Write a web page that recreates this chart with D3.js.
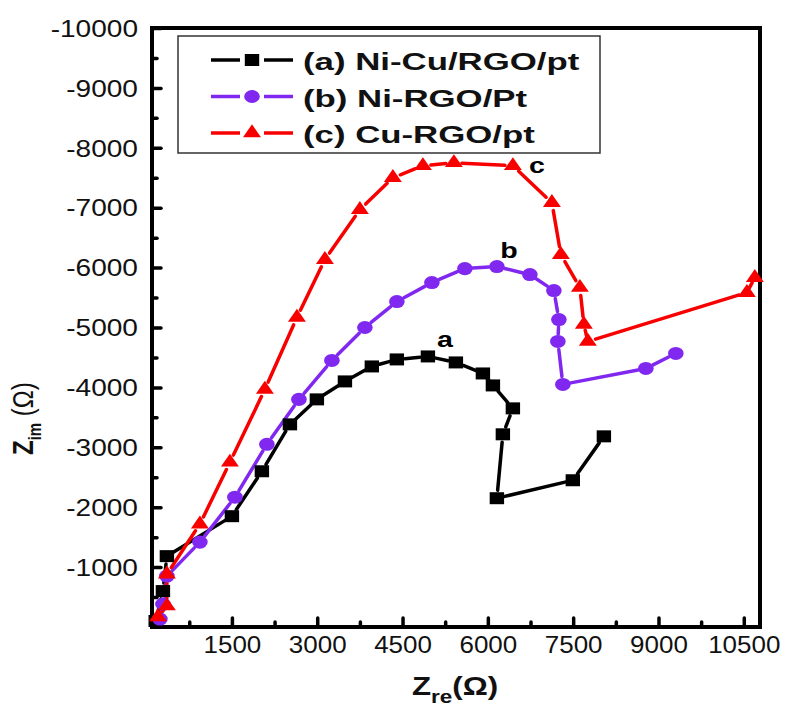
<!DOCTYPE html>
<html>
<head>
<meta charset="utf-8">
<script src="https://cdn.jsdelivr.net/npm/d3@7"></script>
<style>
  body { margin: 0; background: #fff; }
  text { font-family: "Liberation Sans", Arial, sans-serif; }
</style>
</head>
<body>
<div id="chart"></div>
<script>
// tick values
var xTicks = [1500, 3000, 4500, 6000, 7500, 9000, 10500];
var yTicks = [-1000, -2000, -3000, -4000, -5000, -6000, -7000, -8000, -9000, -10000];

// (a) Ni-Cu/RGO/pt
var aRe = [160, 287, 357, 1500, 2027, 2520, 2994, 3487, 3960, 4400, 4946, 5438, 5913, 6089, 6440, 6264, 6159, 7494, 8040];
var aIm = [-100, -600, -1183, -1850, -2600, -3383, -3800, -4100, -4350, -4467, -4517, -4417, -4233, -4033, -3650, -3217, -2150, -2450, -3183];

// (b) Ni-RGO/Pt
var bRe = [234, 287, 357, 937, 1553, 2115, 2678, 3258, 3838, 4400, 5016, 5596, 6159, 6739, 7161, 7249, 7231, 7319, 8778, 9305];
var bIm = [-133, -383, -850, -1417, -2167, -3050, -3800, -4450, -5000, -5433, -5750, -5983, -6017, -5883, -5617, -5133, -4767, -4050, -4317, -4567];

// (c) Cu-RGO/pt
var cRe = [199, 357, 357, 937, 1465, 2080, 2643, 3135, 3750, 4330, 4858, 5403, 6440, 7126, 7284, 7618, 7688, 7758, 10554, 10694];
var cIm = [-167, -350, -883, -1717, -2750, -3967, -5167, -6133, -6967, -7500, -7700, -7750, -7700, -7083, -6217, -5667, -5050, -4767, -5583, -5833];

var seriesNames = ["(a) Ni-Cu/RGO/pt", "(b) Ni-RGO/Pt", "(c) Cu-RGO/pt"];
var curveLabels = ["a", "b", "c"];
var labelRe = [5245, 6370, 6862];
var labelIm = [-4667, -6167, -7583];

var colors = ["#000000", "#8028f0", "#f80000"];
var shapes = [d3.symbolSquare, d3.symbolCircle, d3.symbolTriangle];
var shapeSizes = [144, 133, 97];

var series = [
    { re: aRe, im: aIm },
    { re: bRe, im: bIm },
    { re: cRe, im: cIm }
];

var margin = { top: 28, right: 25, bottom: 84, left: 152 },
    width = 785 - margin.left - margin.right,
    height = 711 - margin.top - margin.bottom;

var x = d3.scaleLinear().domain([95, 10785]).range([0, width]);
var y = d3.scaleLinear().domain([0, -10000]).range([height, 0]);

// plain hyphen for negative numbers, like the original
var fmt = function (d) { return String(d); };

var svg = d3.select("#chart")
    .append("svg")
    .attr("width", 785)
    .attr("height", 711);

var g = svg.append("g")
    .attr("transform", "translate(" + margin.left + "," + margin.top + ")");

// minor ticks
g.append("g")
    .attr("class", "x minor")
    .attr("transform", "translate(0," + height + ")")
    .call(d3.axisBottom(x).tickValues(d3.range(750, 10785, 1500)).tickSize(-5).tickFormat(""));
g.append("g")
    .attr("class", "y minor")
    .call(d3.axisLeft(y).tickValues(d3.range(-500, -10001, -1000)).tickSize(-5).tickFormat(""));

// major ticks
var xAxisG = g.append("g")
    .attr("class", "x axis")
    .attr("transform", "translate(0," + height + ")")
    .call(d3.axisBottom(x).tickValues(xTicks).tickSize(-9).tickFormat(fmt));
var yAxisG = g.append("g")
    .attr("class", "y axis")
    .call(d3.axisLeft(y).tickValues(yTicks).tickSize(-9).tickFormat(fmt));

g.selectAll(".domain").remove();
g.selectAll(".tick line")
    .attr("stroke", "#000")
    .attr("stroke-width", 3.5)
    .attr("stroke-linecap", "round");

xAxisG.selectAll("text")
    .attr("y", 10)
    .attr("dy", "0.71em")
    .attr("transform", "scale(1.13,1)")
    .style("font-size", "23px")
    .attr("fill", "#111");
yAxisG.selectAll("text")
    .attr("x", -11.5)
    .attr("dy", "0.36em")
    .attr("transform", "scale(1.22,1)")
    .style("font-size", "23px")
    .attr("fill", "#111");

// frame
g.append("rect")
    .attr("width", width)
    .attr("height", height)
    .attr("fill", "none")
    .attr("stroke", "#000")
    .attr("stroke-width", 4);

// series lines with gaps around the markers
series.forEach(function (s, i) {
    var pts = s.re.map(function (d, k) { return [x(d), y(s.im[k])]; });
    var segs = [];
    for (var k = 0; k < pts.length - 1; k++) {
        var dx = pts[k + 1][0] - pts[k][0],
            dy = pts[k + 1][1] - pts[k][1],
            len = Math.sqrt(dx * dx + dy * dy);
        if (len < 1) continue;
        var gap = Math.min(8, len / 3);
        var ux = dx / len, uy = dy / len;
        segs.push([pts[k][0] + ux * gap, pts[k][1] + uy * gap, pts[k + 1][0] - ux * gap, pts[k + 1][1] - uy * gap]);
    }
    g.append("g").selectAll("line")
        .data(segs)
        .enter()
        .append("line")
        .attr("x1", function (d) { return d[0]; })
        .attr("y1", function (d) { return d[1]; })
        .attr("x2", function (d) { return d[2]; })
        .attr("y2", function (d) { return d[3]; })
        .attr("stroke", colors[i])
        .attr("stroke-width", 3.5)
        .attr("stroke-linecap", "round");
});

// markers
series.forEach(function (s, i) {
    var sym = d3.symbol().type(shapes[i]).size(shapeSizes[i]);
    g.append("g").selectAll("path")
        .data(s.re)
        .enter()
        .append("path")
        .attr("d", sym)
        .attr("transform", function (d, k) {
            return "translate(" + x(d) + "," + y(s.im[k]) + ") scale(1.2,1)";
        })
        .attr("fill", colors[i]);
});

// curve labels a, b, c
g.selectAll(".curve-label")
    .data(curveLabels)
    .enter()
    .append("text")
    .attr("class", "curve-label")
    .attr("transform", function (d, i) {
        return "translate(" + x(labelRe[i]) + "," + y(labelIm[i]) + ") scale(1.3,1)";
    })
    .attr("text-anchor", "middle")
    .style("font-size", "22px")
    .style("font-weight", "bold")
    .text(function (d) { return d; });

// legend
var legend = svg.append("g").attr("class", "legend");
legend.append("rect")
    .attr("x", 178)
    .attr("y", 36)
    .attr("width", 422)
    .attr("height", 117)
    .attr("fill", "#fff")
    .attr("stroke", "#333")
    .attr("stroke-width", 1.5);

var rows = legend.selectAll(".row")
    .data(seriesNames)
    .enter()
    .append("g")
    .attr("class", "row")
    .attr("transform", function (d, i) { return "translate(0," + (60 + i * 36.5) + ")"; });

rows.append("line").attr("x1", 211).attr("x2", 240).attr("y1", 0).attr("y2", 0)
    .attr("stroke", function (d, i) { return colors[i]; }).attr("stroke-width", 3.5);
rows.append("line").attr("x1", 264).attr("x2", 293).attr("y1", 0).attr("y2", 0)
    .attr("stroke", function (d, i) { return colors[i]; }).attr("stroke-width", 3.5);
rows.append("path")
    .attr("d", function (d, i) { return d3.symbol().type(shapes[i]).size(shapeSizes[i])(); })
    .attr("transform", "translate(252,0) scale(1.2,1)")
    .attr("fill", function (d, i) { return colors[i]; });
rows.append("text")
    .attr("transform", "translate(303,10) scale(1.45,1)")
    .style("font-size", "24px")
    .style("font-weight", "bold")
    .attr("fill", "#111")
    .text(function (d) { return d; });

// x axis title
var xTitle = svg.append("text")
    .attr("transform", "translate(412,695) scale(1.25,1)")
    .style("font-size", "25px")
    .style("font-weight", "bold")
    .attr("fill", "#111");
xTitle.append("tspan").text("Z");
xTitle.append("tspan").attr("dy", 8).style("font-size", "18px").text("re");
xTitle.append("tspan").attr("dy", -8).text("(\u03A9)");

// y axis title
var yTitle = svg.append("text")
    .attr("transform", "translate(33,455) scale(1.2,1) rotate(-90)")
    .style("font-size", "24px")
    .style("font-weight", "bold")
    .attr("fill", "#111");
yTitle.append("tspan").text("Z");
yTitle.append("tspan").attr("dy", 7).style("font-size", "15px").text("im");
yTitle.append("tspan").attr("dy", -7).style("font-weight", "normal").text(" (\u03A9)");
</script>
</body>
</html>
